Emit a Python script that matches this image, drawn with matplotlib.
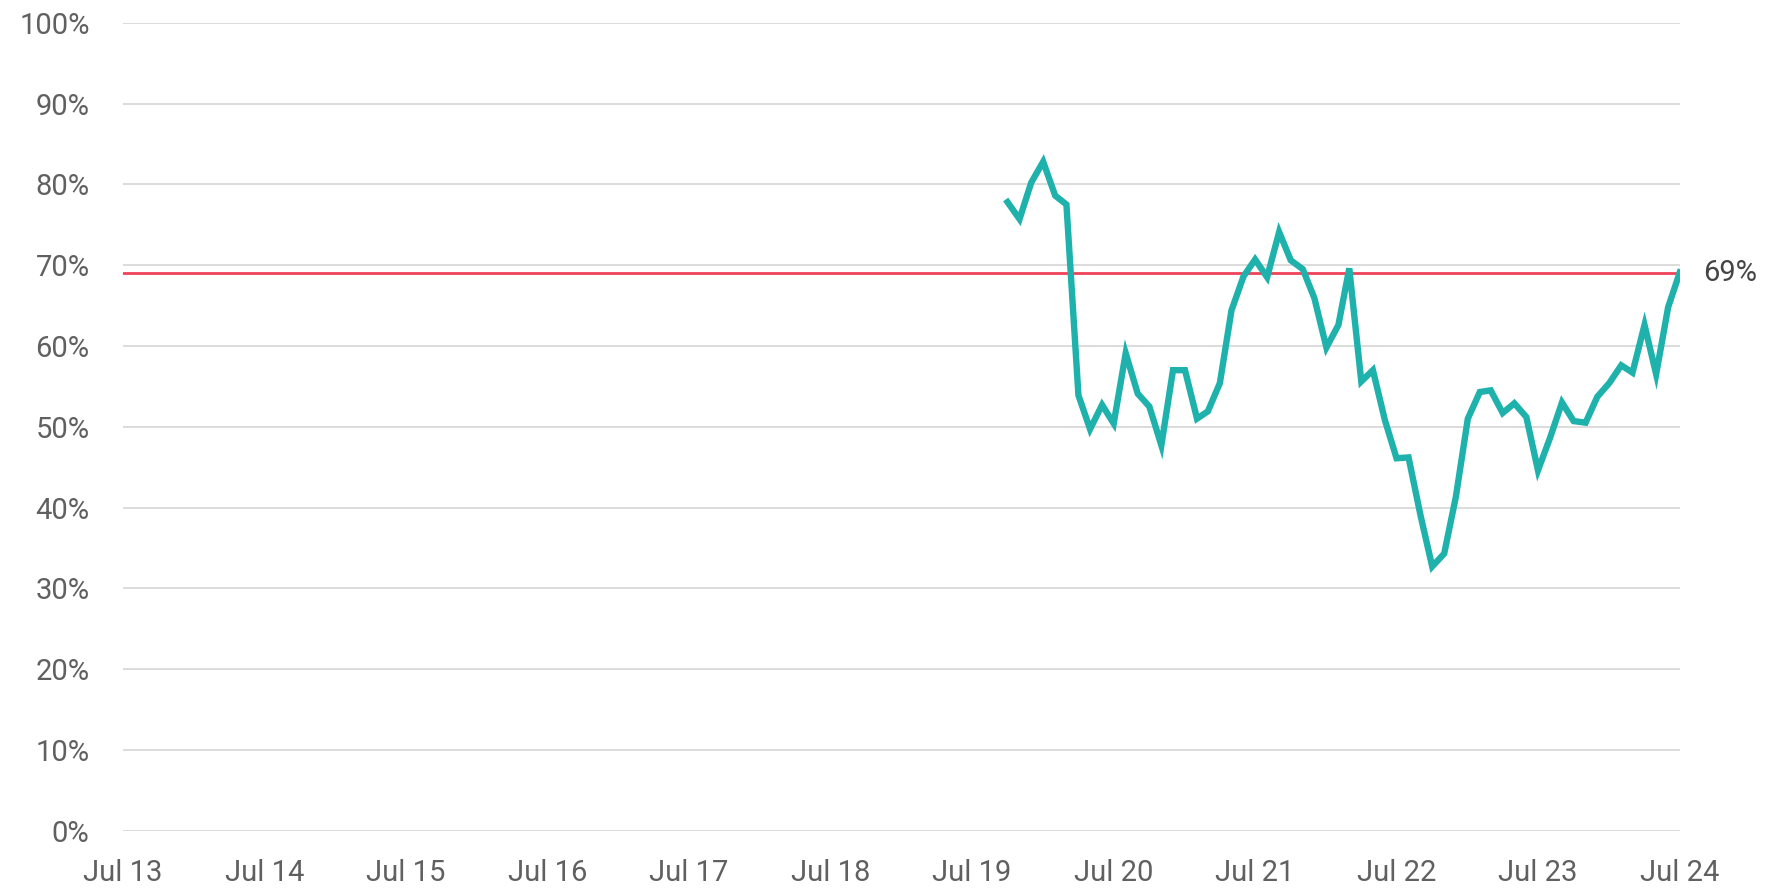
import numpy as np
import pandas as pd
import matplotlib
matplotlib.use("Agg")
import matplotlib.pyplot as plt
import matplotlib.dates as mdates
from matplotlib.ticker import FuncFormatter

# monthly series, Oct 2019 - Jul 2024
months = pd.date_range("2019-10-01", "2024-07-01", freq="MS")
values = [77.8, 75.7, 80.2, 82.8, 78.6, 77.5, 53.9, 49.7, 52.7, 50.4,
          59.1, 54.1, 52.5, 47.7, 57.0, 57.0, 51.0, 51.9, 55.4, 64.4,
          68.6, 70.7, 68.5, 74.1, 70.6, 69.5, 65.9, 59.8, 62.6, 69.6,
          55.6, 57.0, 50.8, 46.1, 46.2, 39.0, 32.7, 34.3, 41.3, 51.0,
          54.3, 54.5, 51.7, 52.9, 51.2, 44.6, 48.6, 53.0, 50.7, 50.5,
          53.7, 55.4, 57.6, 56.7, 62.6, 56.5, 64.8, 69.1]
avg_level = 69
avg_label = "69%"

tick_dates = pd.date_range("2013-07-01", "2024-07-01", freq="12MS")
tick_labels = ["Jul " + d.strftime("%y") for d in tick_dates]

plt.rcParams['font.family'] = ['Roboto', 'DejaVu Sans']

fig = plt.figure(figsize=(17.87, 8.88), dpi=100)
ax = fig.add_axes([0.0688, 0.0645, 0.8712, 0.9099])

ax.plot(months, values, color="#1fb1ab", linewidth=4.6, solid_joinstyle="miter",
        zorder=3)
ax.axhline(avg_level, color="#f0435a", linewidth=2.0, zorder=2)
ax.text(1.015, avg_level, avg_label, transform=ax.get_yaxis_transform(),
        ha="left", va="center", fontsize=21, color="#454545")

ax.set_xlim(tick_dates[0], tick_dates[-1])
ax.set_ylim(0, 100)
ax.set_xticks(tick_dates)
ax.set_xticklabels(tick_labels)
ax.set_yticks(np.arange(0, 101, 10))
ax.yaxis.set_major_formatter(FuncFormatter(lambda v, p: "%d%%" % v))

ax.grid(axis="y", color="#d9d9d9", linewidth=1.3)
ax.set_axisbelow(True)
for s in ax.spines.values():
    s.set_visible(False)
ax.tick_params(axis="both", length=0, labelsize=21, labelcolor="#606060")
ax.tick_params(axis="y", pad=24)
ax.tick_params(axis="x", pad=20)

fig.savefig("out.png", dpi=100)
